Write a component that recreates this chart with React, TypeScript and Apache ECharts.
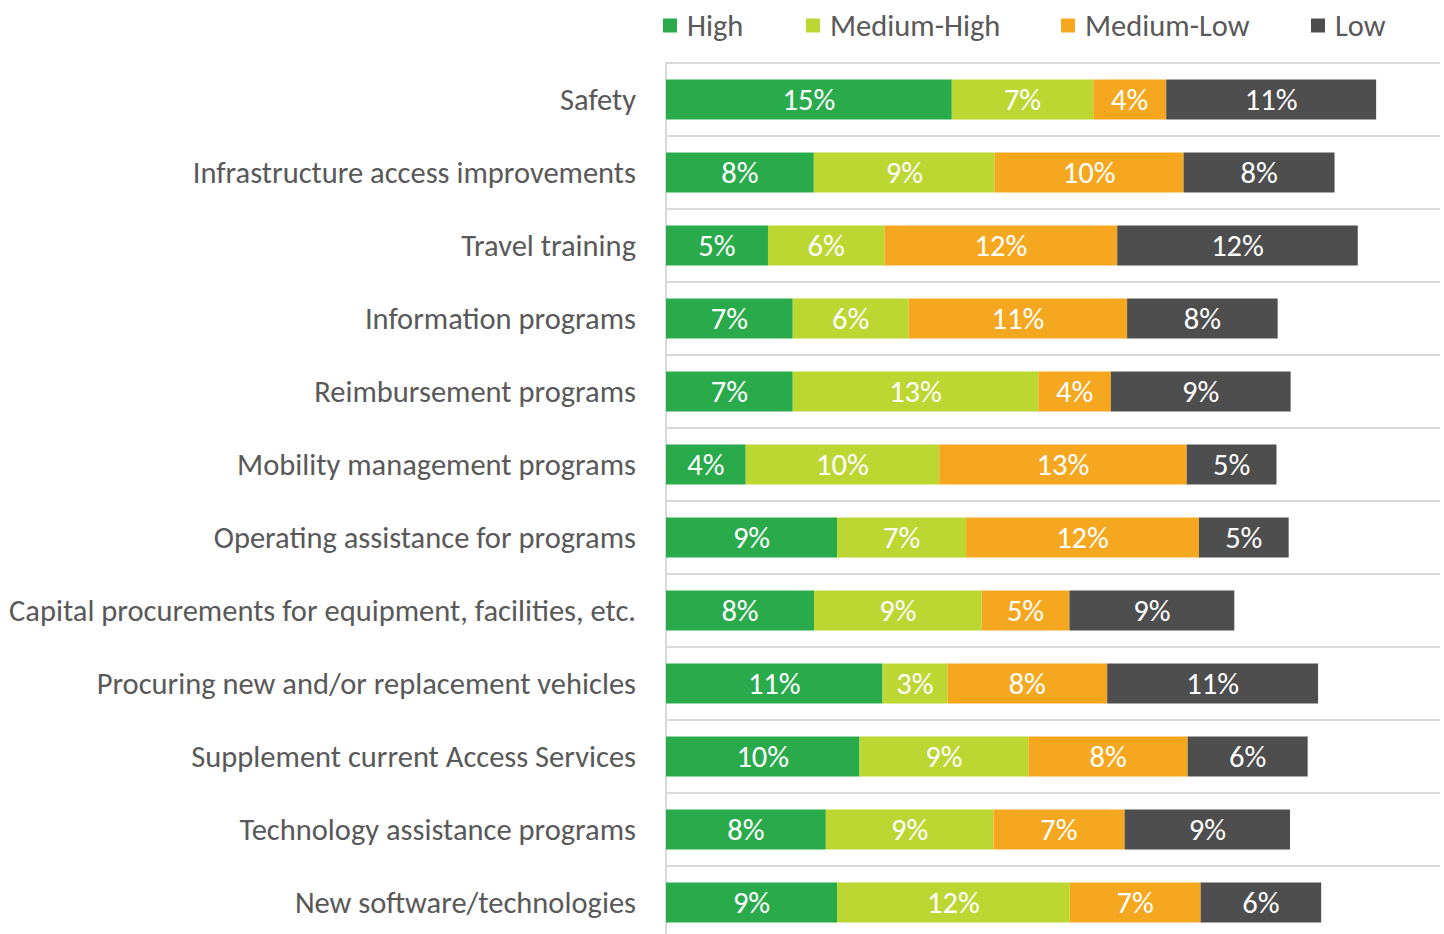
import React, { useEffect, useRef } from "react";
import * as echarts from "echarts";

const categories = [
  "Safety",
  "Infrastructure access improvements",
  "Travel training",
  "Information programs",
  "Reimbursement programs",
  "Mobility management programs",
  "Operating assistance for programs",
  "Capital procurements for equipment, facilities, etc.",
  "Procuring new and/or replacement vehicles",
  "Supplement current Access Services",
  "Technology assistance programs",
  "New software/technologies",
];

const seriesNames = ["High", "Medium-High", "Medium-Low", "Low"];

const high = [14.77, 7.64, 5.27, 6.55, 6.55, 4.12, 8.84, 7.65, 11.19, 10.0, 8.26, 8.84];
const mediumHigh = [7.31, 9.35, 6.02, 5.99, 12.69, 10.0, 6.67, 8.66, 3.35, 8.73, 8.66, 12.03];
const mediumLow = [3.77, 9.76, 12.03, 11.29, 3.75, 12.79, 12.03, 4.54, 8.26, 8.23, 6.78, 6.76];
const low = [10.85, 7.8, 12.43, 7.78, 9.29, 4.64, 4.64, 8.52, 10.9, 6.2, 8.55, 6.23];

const colors = ["#29AB4B", "#BCD632", "#F5A81F", "#4D4E4D"];
const legendLefts = [663, 806, 1061, 1311];

const FONT = "Carlito, Calibri, Lato, sans-serif";

export default function App() {
  const ref = useRef<HTMLDivElement>(null);

  useEffect(() => {
    if (!ref.current) return;
    const chart = echarts.init(ref.current, undefined, { renderer: "svg" });
    const values = [high, mediumHigh, mediumLow, low];
    chart.setOption({
      animation: false,
      backgroundColor: "#ffffff",
      color: colors,
      legend: seriesNames.map((name, i) => ({
        data: [name],
        left: legendLefts[i],
        top: 10,
        padding: 0,
        itemWidth: 14,
        itemHeight: 14,
        itemGap: 0,
        icon: "rect",
        selectedMode: false,
        textStyle: {
          fontFamily: FONT,
          fontSize: 30.5,
          color: "#595959",
          lineHeight: 30,
          padding: [0, 0, 0, 5],
        },
      })),
      grid: {
        left: 666,
        right: 4,
        top: 63,
        height: 876,
        containLabel: false,
        outerBoundsMode: "none",
      },
      xAxis: {
        type: "value",
        min: 0,
        max: 40,
        show: true,
        axisLabel: { show: false },
        axisLine: { show: false },
        axisTick: { show: false },
        splitLine: { show: false },
      },
      yAxis: {
        type: "category",
        data: categories,
        inverse: true,
        axisLine: { show: true, lineStyle: { color: "#d9d9d9", width: 2 } },
        axisTick: { show: false },
        splitLine: { show: true, lineStyle: { color: "#d9d9d9", width: 2 } },
        axisLabel: {
          margin: 30,
          fontFamily: FONT,
          fontSize: 30.5,
          color: "#595959",
        },
      },
      series: seriesNames.map((name, i) => ({
        name,
        type: "bar",
        stack: "total",
        barWidth: 40,
        data: values[i],
        itemStyle: { color: colors[i] },
        label: {
          show: true,
          position: "inside",
          color: "#ffffff",
          fontFamily: FONT,
          fontSize: 30.5,
          formatter: (p: any) => Math.round(p.value) + "%",
        },
      })),
    });
    return () => chart.dispose();
  }, []);

  return (
    <div
      ref={ref}
      style={{ position: "fixed", left: 0, top: 0, width: 1444, height: 950 }}
    />
  );
}
